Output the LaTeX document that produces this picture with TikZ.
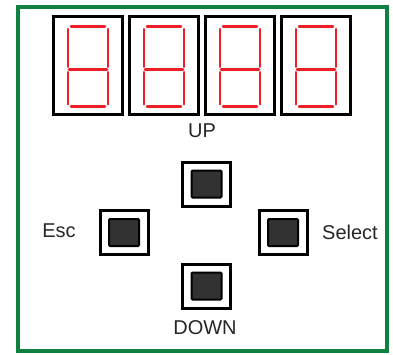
\documentclass[tikz,border=0pt]{standalone}
\usepackage{fontspec}
\setmainfont{Liberation Sans}
\usetikzlibrary{positioning}
\definecolor{panelgreen}{RGB}{16,128,64}
\definecolor{segred}{RGB}{236,30,40}
\definecolor{capgray}{RGB}{50,50,50}

\begin{document}
\begin{tikzpicture}[x=1pt,y=-1pt,node distance=76pt,
  digit/.style={draw,line width=2.6pt,minimum width=69.5pt,minimum height=98pt,inner sep=0pt},
  seg/.style={draw=segred,line width=2.9pt,line cap=round},
  key/.style={draw,fill=white,line width=3pt,minimum width=48pt,minimum height=44pt,inner sep=0pt},
  keycap/.style={draw,fill=capgray,line width=2pt,rounded corners=1pt,minimum width=30pt,minimum height=27pt,inner sep=0pt},
  lbl/.style={font=\fontsize{20}{22}\selectfont,text=black!85}]
\useasboundingbox (0,0) rectangle (393,354);
\draw[panelgreen,line width=3.8pt] (18,7) rectangle (387,351);
% display
\node[digit] (d1) at (88,65.7) {};
\node[digit,right of=d1] (d2) {};
\node[digit,right of=d2] (d3) {};
\node[digit,right of=d3] (d4) {};
\foreach \d in {d1,d2,d3,d4}{
  \begin{scope}[shift={(\d.center)}]
  \draw[seg] (-17,-39.5) -- (17,-39.5) (-19,3.7) -- (19,3.7) (-17,41.2) -- (17,41.2);
  \draw[seg] (-20,-36.5) -- (-20,1) (20,-36.5) -- (20,1)
             (-20,6.5) -- (-20,38.5) (20,6.5) -- (20,38.5);
  \end{scope}}
% keys
\node[key] (up) at (206.5,184) {};
\node[key,on grid,below=102pt of up] (down) {};
\node[key] (esc) at (124,232.5) {};
\node[key,on grid,right=159pt of esc] (sel) {};
\foreach \k in {up,down,esc,sel}
  \node[keycap] at (\k) {};
\node[lbl] (uplbl) at (202,131) {UP};
\node[lbl] (downlbl) at (205,328) {DOWN};
\node[lbl] (esclbl) at (59,231) {Esc};
\node[lbl] (sellbl) at (350,232) {Select};
\end{tikzpicture}
\end{document}
